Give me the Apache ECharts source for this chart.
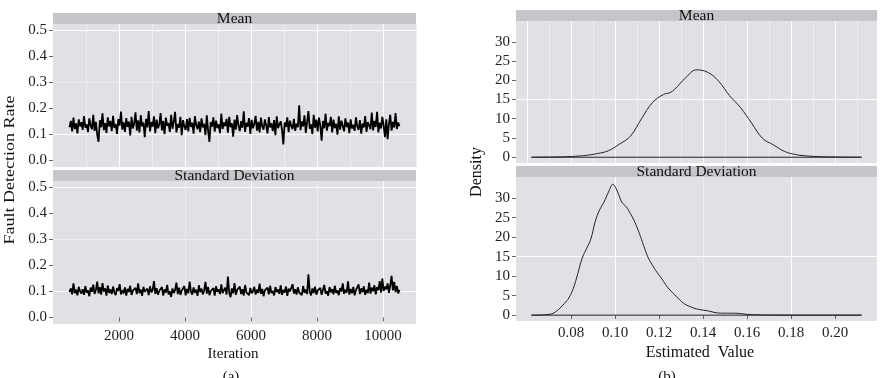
<!DOCTYPE html>
<html>
<head>
<meta charset="utf-8">
<script src="https://cdn.jsdelivr.net/npm/echarts@6/dist/echarts.min.js"></script>
<style>
  html, body { margin: 0; padding: 0; background: #fff; }
  #chart { width: 894px; height: 378px; }
</style>
</head>
<body>
<div id="chart"></div>
<script>
// trace plots: one value every 40 iterations, from 500 to 10500
const iterStart = 500
const iterStep = 40
const meanTrace = [
  0.128,0.152,0.112,0.165,0.121,0.143,0.104,0.158,0.131,0.147,
  0.118,0.171,0.126,0.139,0.109,0.162,0.135,0.120,0.176,0.114,
  0.149,0.098,0.072,0.155,0.128,0.181,0.117,0.144,0.106,0.166,
  0.131,0.152,0.113,0.172,0.125,0.140,0.102,0.159,0.134,0.188,
  0.119,0.147,0.110,0.163,0.129,0.150,0.096,0.168,0.123,0.142,
  0.185,0.115,0.154,0.108,0.175,0.131,0.146,0.090,0.160,0.127,
  0.190,0.112,0.148,0.130,0.170,0.105,0.157,0.124,0.138,0.182,
  0.116,0.152,0.101,0.165,0.133,0.144,0.110,0.176,0.122,0.150,
  0.187,0.108,0.140,0.126,0.168,0.097,0.155,0.131,0.118,0.159,
  0.112,0.164,0.129,0.145,0.103,0.171,0.136,0.120,0.150,0.109,
  0.162,0.127,0.141,0.098,0.174,0.115,0.072,0.148,0.130,0.166,
  0.111,0.153,0.125,0.139,0.105,0.180,0.121,0.146,0.132,0.160,
  0.107,0.168,0.128,0.143,0.092,0.157,0.119,0.175,0.134,0.113,
  0.151,0.126,0.189,0.110,0.145,0.130,0.163,0.102,0.156,0.124,
  0.140,0.172,0.115,0.149,0.108,0.165,0.131,0.119,0.158,0.136,
  0.104,0.167,0.127,0.143,0.113,0.155,0.097,0.170,0.124,0.139,
  0.151,0.118,0.062,0.146,0.129,0.166,0.109,0.153,0.133,0.121,
  0.160,0.114,0.142,0.128,0.212,0.117,0.150,0.131,0.174,0.106,
  0.148,0.190,0.122,0.139,0.101,0.176,0.126,0.157,0.112,0.165,
  0.134,0.076,0.152,0.124,0.180,0.115,0.145,0.132,0.168,0.108,
  0.157,0.125,0.141,0.099,0.170,0.119,0.153,0.133,0.112,0.162,
  0.128,0.146,0.105,0.158,0.123,0.137,0.114,0.166,0.131,0.118,
  0.155,0.103,0.142,0.127,0.171,0.110,0.148,0.135,0.120,0.184,
  0.116,0.152,0.129,0.187,0.108,0.145,0.123,0.168,0.134,0.090,
  0.158,0.082,0.140,0.176,0.115,0.149,0.127,0.182,0.121,0.146,
  0.132
]
const sdTrace = [
  0.098,0.112,0.089,0.131,0.094,0.107,0.085,0.118,0.101,0.092,
  0.109,0.087,0.121,0.096,0.104,0.082,0.115,0.099,0.126,0.091,
  0.106,0.138,0.093,0.117,0.088,0.132,0.100,0.112,0.084,0.123,
  0.095,0.108,0.090,0.119,0.097,0.086,0.113,0.102,0.128,0.089,
  0.105,0.093,0.116,0.084,0.110,0.098,0.122,0.087,0.103,0.096,
  0.114,0.090,0.131,0.094,0.107,0.083,0.118,0.099,0.092,0.111,
  0.086,0.120,0.097,0.105,0.140,0.091,0.113,0.088,0.102,0.095,
  0.117,0.084,0.108,0.096,0.125,0.089,0.101,0.079,0.112,0.094,
  0.106,0.134,0.090,0.115,0.087,0.103,0.097,0.121,0.085,0.110,
  0.093,0.138,0.100,0.088,0.116,0.095,0.107,0.083,0.124,0.098,
  0.111,0.089,0.104,0.137,0.092,0.118,0.086,0.101,0.095,0.113,
  0.084,0.120,0.099,0.108,0.090,0.127,0.094,0.105,0.115,0.088,
  0.157,0.096,0.078,0.112,0.093,0.132,0.087,0.106,0.099,0.119,
  0.090,0.109,0.084,0.125,0.097,0.103,0.086,0.114,0.093,0.101,
  0.118,0.088,0.107,0.095,0.130,0.091,0.110,0.082,0.104,0.097,
  0.115,0.089,0.122,0.094,0.102,0.085,0.117,0.098,0.108,0.091,
  0.124,0.087,0.106,0.096,0.119,0.083,0.111,0.100,0.093,0.128,
  0.092,0.109,0.088,0.116,0.097,0.104,0.086,0.121,0.095,0.107,
  0.090,0.166,0.098,0.085,0.112,0.094,0.119,0.088,0.103,0.096,
  0.114,0.087,0.106,0.125,0.092,0.101,0.084,0.117,0.097,0.109,
  0.089,0.122,0.095,0.104,0.086,0.113,0.100,0.131,0.091,0.107,
  0.096,0.139,0.088,0.110,0.093,0.118,0.085,0.105,0.099,0.127,
  0.090,0.112,0.097,0.120,0.087,0.106,0.094,0.134,0.092,0.115,
  0.101,0.124,0.089,0.117,0.105,0.140,0.096,0.150,0.102,0.119,
  0.108,0.131,0.095,0.124,0.160,0.104,0.137,0.098,0.121,0.093,
  0.106
]

// density curves
const meanDensX = [0.062,0.067,0.072,0.077,0.082,0.087,0.092,0.097,0.102,0.107,0.112,0.117,0.122,0.125,0.127,0.132,0.137,0.142,0.147,0.152,0.157,0.162,0.167,0.172,0.177,0.182,0.187,0.192,0.197,0.202,0.207,0.212]
const meanDensY = [0,0.02,0.05,0.12,0.25,0.5,0.95,1.7,3.4,5.5,10,14.2,16.3,16.8,17.6,20.6,22.7,22.1,19.8,16,12.9,8.9,4.9,3.2,1.5,0.7,0.35,0.18,0.09,0.04,0.02,0]
const sdDensX = [0.062,0.067,0.070,0.072,0.075,0.077,0.079,0.081,0.083,0.085,0.087,0.089,0.091,0.093,0.095,0.097,0.099,0.101,0.103,0.105,0.107,0.109,0.111,0.113,0.115,0.117,0.119,0.121,0.123,0.125,0.128,0.131,0.134,0.137,0.140,0.143,0.146,0.150,0.154,0.157,0.160,0.165,0.170,0.180,0.190,0.212]
const sdDensY = [0,0.05,0.2,0.5,1.8,3.0,4.4,6.8,10.5,14.5,17.0,19.5,24.0,27.0,29.0,31.5,33.5,31.8,29.0,27.8,26.0,23.8,21.0,17.8,14.8,12.8,11.0,9.5,7.8,6.4,4.7,3.1,2.2,1.6,1.3,1.0,0.6,0.5,0.5,0.4,0.2,0.08,0.03,0.01,0,0]
const densRange = [0.062, 0.212]

// tick labels
const traceYTicks = [0, 0.1, 0.2, 0.3, 0.4, 0.5]
const iterTicks = [2000, 4000, 6000, 8000, 10000]
const densYTicks = [0, 5, 10, 15, 20, 25, 30]
const estTicks = [0.08, 0.10, 0.12, 0.14, 0.16, 0.18, 0.20]

const facetNames = ['Mean', 'Standard Deviation']

const FONT = 'Liberation Serif'
const PANEL = '#e2e0e4'
const STRIP = '#c7c5ca'
const MAJ = '#ffffff'
const MIN = '#efedf0'
const T = 'rgba(0,0,0,0)'

const chart = echarts.init(document.getElementById('chart'), null, { renderer: 'canvas' })

const grids = [
  { left: 53, top: 24, width: 363, height: 143 },
  { left: 53, top: 181, width: 363, height: 143 },
  { left: 516, top: 21, width: 361, height: 142 },
  { left: 516, top: 177, width: 361, height: 144 },
]
const strips = [
  { x: 53, y: 13, w: 363, h: 11 },
  { x: 53, y: 170, w: 363, h: 11 },
  { x: 516, y: 10, w: 361, h: 11 },
  { x: 516, y: 166, w: 361, h: 11 },
]

const label = (extra) => Object.assign({ fontFamily: FONT, fontSize: 15, color: '#222' }, extra)
const tick = (vals) => ({ show: true, length: 4, lineStyle: { color: '#666', width: 1 }, customValues: vals })

function traceX(i) {
  const bottom = i === 1
  return {
    type: 'value', gridIndex: i, min: 0, max: 11000, interval: 1000,
    axisLine: { show: false },
    axisTick: bottom ? tick(iterTicks) : { show: false },
    axisLabel: bottom ? label({ customValues: iterTicks, margin: 5, formatter: (v) => String(v) }) : { show: false },
    // the line at 0 is skipped, so the colours start at 1000
    splitLine: { show: true, showMinLine: false, lineStyle: { color: [MIN, MAJ], width: 1 } },
  }
}
function traceY(i) {
  return {
    type: 'value', gridIndex: i, min: -0.025, max: 0.525, interval: 0.025,
    axisLine: { show: false },
    axisTick: tick(traceYTicks),
    axisLabel: label({ customValues: traceYTicks, margin: 6, formatter: (v) => v.toFixed(1) }),
    splitLine: { show: true, lineStyle: { color: [T, MAJ, T, MIN], width: 1 } },
  }
}
function densX(i) {
  const bottom = i === 3
  return {
    type: 'value', gridIndex: i, min: 0.055, max: 0.219, interval: 0.005,
    axisLine: { show: false },
    axisTick: bottom ? tick(estTicks) : { show: false },
    axisLabel: bottom ? label({ customValues: estTicks, margin: 5, formatter: (v) => v.toFixed(2) }) : { show: false },
    splitLine: { show: true, lineStyle: { color: [T, MAJ, T, MIN], width: 1 } },
  }
}
function densY(i) {
  return {
    type: 'value', gridIndex: i, min: -1.5, max: 35.4, interval: 0.5,
    axisLine: { show: false },
    axisTick: tick(densYTicks),
    axisLabel: label({ customValues: densYTicks, margin: 6 }),
    splitLine: { show: true, lineStyle: { color: [T, T, T, MAJ, T, T, T, T, MIN, T], width: 1 } },
  }
}

const iters = meanTrace.map((_, k) => iterStart + k * iterStep)
const zip = (xs, ys) => xs.map((x, k) => [x, ys[k]])

const txt = (x, y, text, size, extra) => Object.assign({
  type: 'text', x: x, y: y,
  style: { text: text, font: size + 'px "' + FONT + '"', fill: '#111', align: 'center', verticalAlign: 'middle' },
}, extra)

const graphic = []
strips.forEach((s, i) => {
  graphic.push({ type: 'rect', shape: { x: s.x, y: s.y, width: s.w, height: s.h }, style: { fill: STRIP }, silent: true })
  graphic.push(txt(s.x + s.w / 2, s.y + s.h / 2 + 0.5, facetNames[i % 2], 15.5))
})
graphic.push(
  txt(10, 170, 'Fault Detection Rate', 15, { rotation: Math.PI / 2, scaleX: 1.2 }),
  txt(477, 172, 'Density', 16, { rotation: Math.PI / 2 }),
  txt(233, 354, 'Iteration', 15),
  txt(700, 353, 'Estimated  Value', 16),
  txt(231, 377, '(a)', 15),
  txt(667, 377, '(b)', 15)
)

const option = {
  backgroundColor: '#fff',
  animation: false,
  grid: grids.map((g) => Object.assign({ show: true, backgroundColor: PANEL, borderWidth: 0, containLabel: false }, g)),
  xAxis: [traceX(0), traceX(1), densX(2), densX(3)],
  yAxis: [traceY(0), traceY(1), densY(2), densY(3)],
  graphic: graphic,
  series: [
    { type: 'line', xAxisIndex: 0, yAxisIndex: 0, data: zip(iters, meanTrace), showSymbol: false,
      lineStyle: { color: '#000', width: 1.8 } },
    { type: 'line', xAxisIndex: 1, yAxisIndex: 1, data: zip(iters, sdTrace), showSymbol: false,
      lineStyle: { color: '#000', width: 1.8 } },
    { type: 'line', xAxisIndex: 2, yAxisIndex: 2, data: zip(meanDensX, meanDensY), showSymbol: false, smooth: 0.4,
      lineStyle: { color: '#222', width: 1 } },
    { type: 'line', xAxisIndex: 2, yAxisIndex: 2, data: densRange.map((x) => [x, 0]), showSymbol: false,
      lineStyle: { color: '#222', width: 1 } },
    { type: 'line', xAxisIndex: 3, yAxisIndex: 3, data: zip(sdDensX, sdDensY), showSymbol: false, smooth: 0.4,
      lineStyle: { color: '#222', width: 1 } },
    { type: 'line', xAxisIndex: 3, yAxisIndex: 3, data: densRange.map((x) => [x, 0]), showSymbol: false,
      lineStyle: { color: '#222', width: 1 } },
  ],
}
chart.setOption(option)
</script>
</body>
</html>
